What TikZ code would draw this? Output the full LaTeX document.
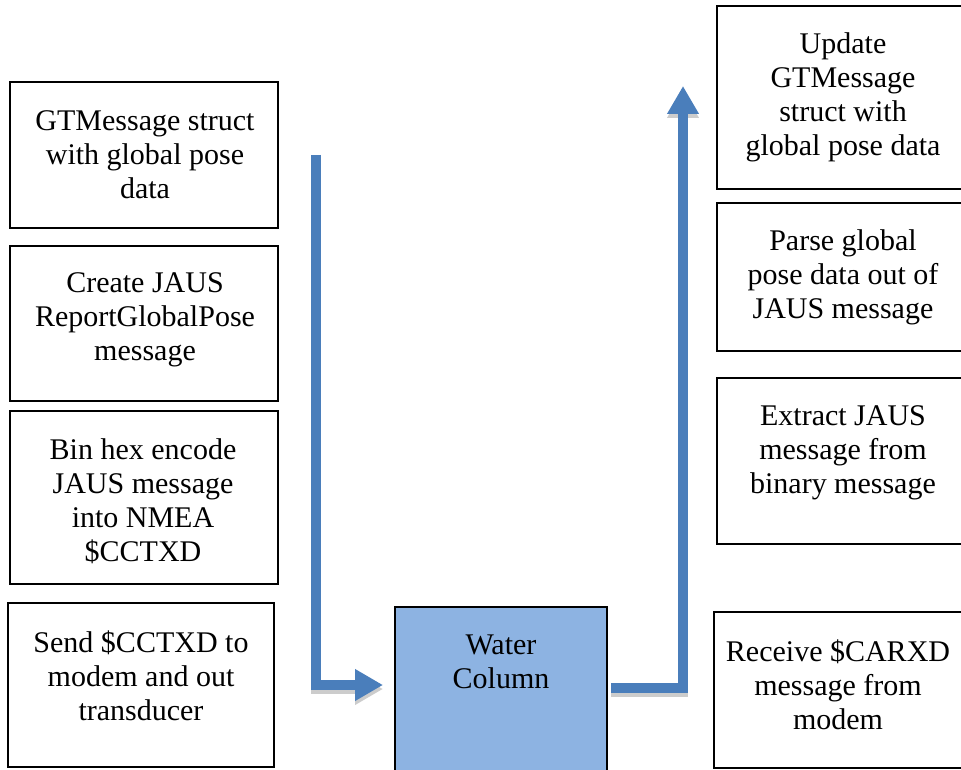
\documentclass[tikz,border=0pt]{standalone}
\usepackage{fontspec}
\setmainfont{Liberation Serif}
\usetikzlibrary{arrows.meta}
\definecolor{arrowblue}{HTML}{4A7EBB}
\definecolor{waterblue}{HTML}{8DB3E2}
\begin{document}
\begin{tikzpicture}[x=1pt,y=-1pt,
  box/.style={draw=black, line width=2.6pt, fill=white, inner sep=0pt},
  txt/.style={align=center, font=\fontsize{30}{34}\selectfont, inner sep=0pt},
  flow/.style={draw=arrowblue, line width=10pt, line join=miter, -{Triangle[width=30pt,length=28pt]}},
  flowshadow/.style={draw=black!20, line width=10pt, line join=miter, -{Triangle[width=30pt,length=28pt]}}
]
\useasboundingbox (0,0) rectangle (961,770);
\fill[white] (0,0) rectangle (961,770);

% left column
\node[box, minimum width=268pt, minimum height=146pt] (b1) at (144,155) {};
\node[txt] (t1) at (145,155) {GTMessage struct\\with global pose\\data};
\node[box, minimum width=268pt, minimum height=155pt] (b2) at (144,323.5) {};
\node[txt] (t2) at (145,320) {Create JAUS\\ReportGlobalPose\\message};
\node[box, minimum width=268pt, minimum height=173pt] (b3) at (144,497.5) {};
\node[txt] (t3) at (143,501) {Bin hex encode\\JAUS message\\into NMEA\\\$CCTXD};
\node[box, minimum width=266pt, minimum height=164pt] (b4) at (141,685) {};
\node[txt] (t4) at (141,676) {Send \$CCTXD to\\modem and out\\transducer};

% right column
\node[box, minimum width=250pt, minimum height=183pt] (r1) at (842,97.5) {};
\node[txt] (s1) at (843,97) {Update\\GTMessage\\struct with\\global pose data};
\node[box, minimum width=250pt, minimum height=148pt] (r2) at (842,277) {};
\node[txt] (s2) at (843,277) {Parse global\\pose data out of\\JAUS message};
\node[box, minimum width=250pt, minimum height=166pt] (r3) at (842,461) {};
\node[txt] (s3) at (843,453) {Extract JAUS\\message from\\binary message};
\node[box, minimum width=253pt, minimum height=156pt] (r4) at (840.5,690) {};
\node[txt] (s4) at (838,685) {Receive \$CARXD\\message from\\modem};

% water column
\node[box, fill=waterblue, minimum width=212pt, minimum height=168pt] (water) at (501,691) {};
\node[txt] (wt) at (501,662) {Water\\Column};

% arrows
\coordinate (la) at (316,155);
\coordinate (lb) at (383,685);
\coordinate (ra) at (611,688);
\coordinate (rb) at (683,86);
\draw[flowshadow] ([yshift=-4pt]la) |- ([yshift=-4pt]lb);
\draw[flowshadow] ([yshift=-4pt]ra) -| ([yshift=-4pt]rb);
\draw[flow] (la) |- (lb);
\draw[flow] (ra) -| (rb);
\end{tikzpicture}
\end{document}
